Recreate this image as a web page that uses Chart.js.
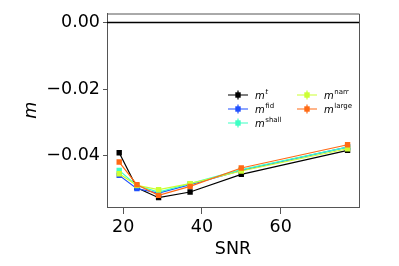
<!DOCTYPE html>
<html>
<head>
<meta charset="utf-8">
<script src="https://cdn.jsdelivr.net/npm/chart.js@4"></script>
<style>
  body { margin: 0; background: #fff; }
  canvas { display: block; }
</style>
</head>
<body>
<canvas id="chartCanvas" width="399" height="266"></canvas>
<script>
// SNR values along x
const snr = [19, 23.5, 29, 37, 50, 77];

// m estimates per method
const mT     = [-0.0391, -0.0496, -0.0526, -0.0509, -0.0456, -0.0384];
const mFid   = [-0.0459, -0.0499, -0.0512, -0.0487, -0.0444, -0.0374];
const mShall = [-0.0444, -0.0490, -0.0509, -0.0484, -0.0442, -0.0374];
const mNarr  = [-0.0454, -0.0489, -0.0502, -0.0484, -0.0446, -0.0379];
const mLarge = [-0.0419, -0.0487, -0.0519, -0.0492, -0.0437, -0.0367];

// tick labels
const xTicks = [20, 40, 60];
const yTicks = [0, -0.02, -0.04];

// legend entries: superscript text, italic superscript?
const legendItems = [
    { sup: 't', italic: true, color: '#000000' },
    { sup: 'fid', italic: false, color: '#1f4fff' },
    { sup: 'shall', italic: false, color: '#3dffc4' },
    { sup: 'narr', italic: false, color: '#ccff33' },
    { sup: 'large', italic: false, color: '#ff6a14' }
];

function pts(ys) {
    return ys.map((y, i) => ({ x: snr[i], y: y }));
}

function ds(ys, color) {
    return {
        data: pts(ys),
        borderColor: color,
        backgroundColor: color,
        borderWidth: 1.2,
        pointStyle: 'rect',
        pointRadius: 3.8,
        pointBorderWidth: 0,
        tension: 0
    };
}

// frame on top/right, zero line and the legend
const extras = {
    id: 'extras',
    beforeDatasetsDraw(chart) {
        const { ctx, chartArea: a, scales } = chart;
        const y0 = scales.y.getPixelForValue(0);
        ctx.save();
        ctx.strokeStyle = '#000';
        ctx.lineWidth = 1.5;
        ctx.beginPath();
        ctx.moveTo(a.left, y0);
        ctx.lineTo(a.right, y0);
        ctx.stroke();
        ctx.restore();
    },
    afterDraw(chart) {
        const { ctx, chartArea: a } = chart;
        ctx.save();
        ctx.strokeStyle = '#555';
        ctx.lineWidth = 1;
        ctx.beginPath();
        ctx.moveTo(a.left, a.top + 0.5);
        ctx.lineTo(a.right + 0.5, a.top + 0.5);
        ctx.lineTo(a.right + 0.5, a.bottom);
        ctx.stroke();

        // legend
        const pos = [[238, 95], [238, 109], [238, 123], [307, 95], [307, 109]];
        legendItems.forEach((it, i) => {
            const [cx, cy] = pos[i];
            ctx.strokeStyle = it.color;
            ctx.fillStyle = it.color;
            ctx.lineWidth = 1.2;
            ctx.beginPath();
            ctx.moveTo(cx - 10, cy);
            ctx.lineTo(cx + 10, cy);
            ctx.moveTo(cx, cy - 4.5);
            ctx.lineTo(cx, cy + 4.5);
            ctx.stroke();
            ctx.fillRect(cx - 2.7, cy - 2.7, 5.4, 5.4);

            ctx.fillStyle = '#000';
            ctx.textBaseline = 'alphabetic';
            ctx.font = 'italic 10px "DejaVu Sans"';
            const tx = cx + 17;
            ctx.fillText('m', tx, cy + 4);
            const w = ctx.measureText('m').width;
            ctx.font = (it.italic ? 'italic ' : '') + '7px "DejaVu Sans"';
            ctx.fillText(it.sup, tx + w + 0.5, cy - 1);
        });
        ctx.restore();
    }
};

const ctx = document.getElementById('chartCanvas').getContext('2d');
const mChart = new Chart(ctx, {
    type: 'line',
    data: {
        datasets: [
            ds(mLarge, legendItems[4].color),
            ds(mNarr, legendItems[3].color),
            ds(mShall, legendItems[2].color),
            ds(mFid, legendItems[1].color),
            ds(mT, legendItems[0].color)
        ]
    },
    options: {
        responsive: false,
        animation: false,
        layout: { padding: { top: 13, right: 40, left: 0, bottom: 0 } },
        plugins: { legend: { display: false }, tooltip: { enabled: false } },
        scales: {
            x: {
                type: 'linear',
                min: 15.9,
                max: 79.9,
                afterBuildTicks: s => { s.ticks = xTicks.map(v => ({ value: v })); },
                afterFit: s => { s.height = 59; },
                grid: { drawOnChartArea: false, tickLength: 7, color: '#555', tickColor: '#555' },
                border: { color: '#555', width: 1 },
                ticks: {
                    color: '#000',
                    font: { family: 'DejaVu Sans', size: 17.5 },
                    padding: 3,
                    maxRotation: 0
                },
                title: {
                    display: true,
                    text: 'SNR',
                    color: '#000',
                    font: { family: 'DejaVu Sans', size: 17.5 },
                    padding: { top: 0, bottom: 6 }
                }
            },
            y: {
                min: -0.0554,
                max: 0.0027,
                afterBuildTicks: s => { s.ticks = yTicks.map(v => ({ value: v })); },
                afterFit: s => { s.width = 107; },
                grid: { drawOnChartArea: false, tickLength: 4, color: '#555', tickColor: '#555' },
                border: { color: '#555', width: 1 },
                ticks: {
                    color: '#000',
                    font: { family: 'DejaVu Sans', size: 17.5 },
                    padding: 3,
                    callback: v => v.toFixed(2).replace('-', '\u2212')
                },
                title: {
                    display: true,
                    text: 'm',
                    color: '#000',
                    font: { family: 'DejaVu Sans', size: 17.5, style: 'italic' },
                    padding: { top: 21, bottom: 0 }
                }
            }
        }
    },
    plugins: [extras]
});
</script>
</body>
</html>
